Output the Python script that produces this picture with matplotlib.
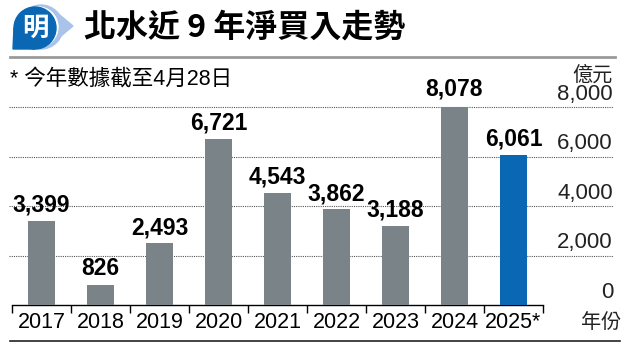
"""
北水近9年淨買入走勢 bar chart.
"""

import matplotlib
matplotlib.use("Agg")
import matplotlib.pyplot as plt
from matplotlib.patches import Ellipse, Polygon
from matplotlib.lines import Line2D

plt.rcParams["font.family"] = ["Liberation Sans", "Noto Sans CJK TC", "DejaVu Sans"]

years = ["2017", "2018", "2019", "2020", "2021", "2022", "2023", "2024", "2025*"]
net_buy = [3399, 826, 2493, 6721, 4543, 3862, 3188, 8078, 6061]
y_ticks = [0, 2000, 4000, 6000, 8000]

title = "北水近 9 年淨買入走勢"
note = "* 今年數據截至4月28日"
unit = "億元"
x_unit = "年份"

GREY = "#7a8387"
BLUE = "#0a67b4"
LIGHT = "#a9c4e8"

W, H = 630, 352
fig = plt.figure(figsize=(W / 100, H / 100), dpi=100)


def fx(px):
    return px / W


def fy(py):
    return 1 - py / H


def disc(cx, cy, r, color):
    # circle given in pixels, drawn in figure fraction
    fig.add_artist(Ellipse((fx(cx), fy(cy)), 2 * r / W, 2 * r / H, color=color,
                           transform=fig.transFigure))


# axes placed in pixel terms
ax = fig.add_axes([fx(12), fy(305), fx(543) - fx(12), fy(107) - fy(305)])
ax.set_xlim(-0.5, len(years) - 0.5)
ax.set_ylim(0, 8000)

colors = [GREY] * (len(years) - 1) + [BLUE]
x = list(range(len(years)))
ax.bar(x, net_buy, width=0.46, color=colors, zorder=3)

for xi, v in zip(x, net_buy):
    ax.annotate(f"{v:,}", (xi, v), xytext=(0, 3), textcoords="offset points",
                ha="center", va="bottom", fontsize=16.5, fontweight="bold",
                clip_on=False, annotation_clip=False)

# dotted grid lines running out to the right labels
right_frac = (613 - 12) / (543 - 12)
for t in y_ticks[1:]:
    ax.axhline(t, xmin=-0.005, xmax=right_frac, color="#555555", lw=0.8,
               ls=(0, (1, 1)), clip_on=False, zorder=1)
for t in y_ticks:
    ax.text(right_frac, t + 100, f"{t:,}", transform=ax.get_yaxis_transform(),
            ha="right", va="bottom", fontsize=16, color="#222222")

ax.set_yticks([])
for s in ["top", "right", "left"]:
    ax.spines[s].set_visible(False)
ax.spines["bottom"].set_linewidth(1.0)

ax.set_xticks(x)
ax.set_xticklabels(years, fontsize=15.5)
ax.tick_params(axis="x", which="major", length=0, pad=5)
ax.set_xticks([i - 0.5 for i in range(len(years) + 1)], minor=True)
ax.tick_params(axis="x", which="minor", length=6, width=1, direction="out")

# header
fig.text(fx(84), fy(28), title, fontsize=23, fontweight="bold",
         family="Noto Sans CJK TC", va="center", ha="left")
fig.add_artist(Line2D([fx(10), fx(615)], [fy(57), fy(57)], color="#9a9a9a", lw=2))
fig.text(fx(10), fy(79), note, fontsize=15.5, va="center", ha="left")
fig.text(fx(613), fy(75), unit, fontsize=14.5, va="center", ha="right", color="#222222")
fig.text(fx(621), fy(323), x_unit, fontsize=14.5, va="center", ha="right", color="#222222")
fig.add_artist(Line2D([fx(10), fx(620)], [fy(341), fy(341)], color="#222222", lw=1.2))

# logo: blue speech bubble with light-blue chevron
fig.add_artist(Polygon([(fx(55), fy(11)), (fx(73), fy(26)), (fx(55), fy(41))],
                       closed=True, color=LIGHT, transform=fig.transFigure))
disc(41, 27, 22, LIGHT)
disc(38, 27, 20, "white")
disc(35, 28, 21, BLUE)
fig.add_artist(Polygon([(fx(14), fy(28)), (fx(13), fy(49)), (fx(35), fy(49))],
                       closed=True, color=BLUE, transform=fig.transFigure))
fig.text(fx(35), fy(28), "明", fontsize=19, fontweight="bold", color="white",
         family="Noto Sans CJK TC", ha="center", va="center", style="italic")

fig.savefig("out.png", dpi=100)
